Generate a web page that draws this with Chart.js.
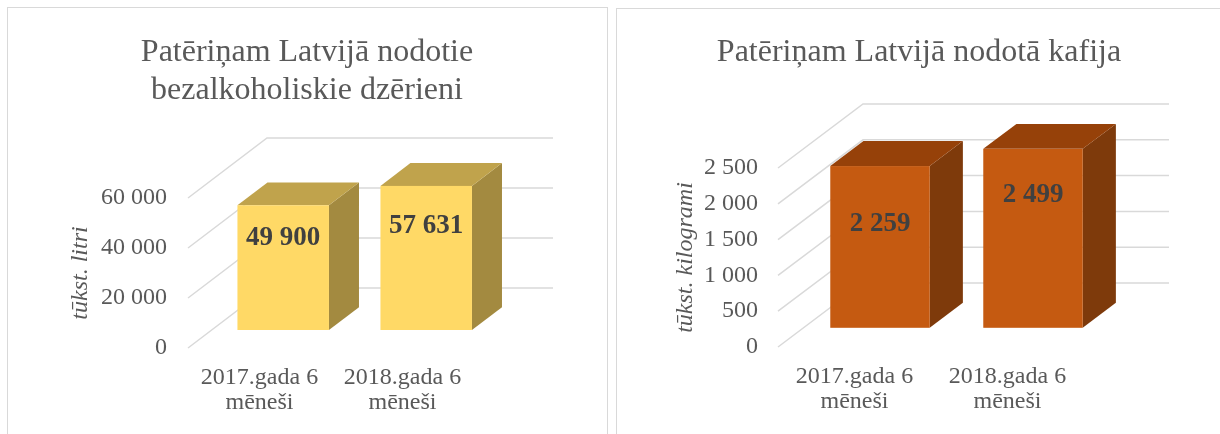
<!DOCTYPE html>
<html><head><meta charset="utf-8">
<script src="https://cdn.jsdelivr.net/npm/chart.js@4.4.1/dist/chart.umd.min.js"></script>
<style>
html,body{margin:0;padding:0;background:#fff;width:1220px;height:434px;overflow:hidden}
#wrap{position:relative;width:1220px;height:434px}
.frame{position:absolute;border:1.5px solid #d9d9d9;box-sizing:border-box}
canvas{position:absolute;top:0}
</style></head><body>
<div id="wrap">
<div class="frame" style="left:7px;top:7px;width:601px;height:440px"></div>
<div class="frame" style="left:616px;top:8px;width:620px;height:440px"></div>
<canvas id="c1" width="610" height="434" style="left:0"></canvas>
<canvas id="c2" width="610" height="434" style="left:610px"></canvas>
</div>
<script>
const categories = [['2017.gada 6', 'mēneši'], ['2018.gada 6', 'mēneši']];
const drinksValues = [49900, 57631];
const coffeeValues = [2259, 2499];
const drinksTicks = [0, 20000, 40000, 60000];
const coffeeTicks = [0, 500, 1000, 1500, 2000, 2500];
const drinksTitle = ['Patēriņam Latvijā nodotie', 'bezalkoholiskie dzērieni'];
const coffeeTitle = ['Patēriņam Latvijā nodotā kafija'];
const drinksUnit = 'tūkst. litri';
const coffeeUnit = 'tūkst. kilogrami';

const SERIF = '"Liberation Serif", "Times New Roman", serif';
const GREY = '#595959';
const fmt = v => String(v).replace(/\B(?=(\d{3})+(?!\d))/g, ' ');

const threeD = {
  id: 'threeD',
  beforeDraw(chart, args, o) {
    const ctx = chart.ctx;
    ctx.save();
    ctx.font = '32px ' + SERIF;
    ctx.fillStyle = GREY;
    ctx.textAlign = 'center';
    ctx.textBaseline = 'alphabetic';
    o.title.forEach((line, i) => ctx.fillText(line, o.titleX, o.titleY + i * 38));
    ctx.restore();
  },
  beforeDatasetsDraw(chart, args, o) {
    const {ctx, chartArea: a} = chart;
    const y = chart.scales.y;
    ctx.save();
    ctx.strokeStyle = '#d9d9d9';
    ctx.lineWidth = 1.5;
    y.ticks.forEach(t => {
      const py = y.getPixelForValue(t.value);
      ctx.beginPath();
      ctx.moveTo(a.left, py);
      ctx.lineTo(a.left + o.dx, py + o.dy);
      ctx.lineTo(a.right + o.dx, py + o.dy);
      ctx.stroke();
    });
    ctx.restore();
  },
  afterDatasetsDraw(chart, args, o) {
    const ctx = chart.ctx;
    const meta = chart.getDatasetMeta(0);
    const values = chart.data.datasets[0].data;
    const bx = o.dx * o.frontAt, by = o.dy * o.frontAt;
    const ddx = o.dx * o.depth, ddy = o.dy * o.depth;
    ctx.save();
    meta.data.forEach((bar, i) => {
      const {x, y, base, width} = bar.getProps(['x', 'y', 'base', 'width'], true);
      const l = x - width / 2 + bx, r = x + width / 2 + bx, t = y + by, b = base + by;
      ctx.fillStyle = o.sideColor;
      ctx.beginPath();
      ctx.moveTo(r, t); ctx.lineTo(r + ddx, t + ddy); ctx.lineTo(r + ddx, b + ddy); ctx.lineTo(r, b);
      ctx.closePath(); ctx.fill();
      ctx.fillStyle = o.topColor;
      ctx.beginPath();
      ctx.moveTo(l, t); ctx.lineTo(l + ddx, t + ddy); ctx.lineTo(r + ddx, t + ddy); ctx.lineTo(r, t);
      ctx.closePath(); ctx.fill();
      ctx.fillStyle = o.frontColor;
      ctx.fillRect(l, t, r - l, b - t);
      ctx.font = 'bold 27px ' + SERIF;
      ctx.fillStyle = '#404040';
      ctx.textAlign = 'center';
      ctx.textBaseline = 'middle';
      ctx.fillText(fmt(values[i]), (l + r) / 2, b - (b - t) * o.labelAt[i]);
    });
    ctx.restore();
  }
};

function makeChart(id, values, ticks, title, unit, s) {
  return new Chart(document.getElementById(id), {
    type: 'bar',
    data: {
      labels: categories,
      datasets: [{
        data: values,
        backgroundColor: 'rgba(0,0,0,0)',
        borderWidth: 0,
        categoryPercentage: 1,
        barPercentage: s.barPct
      }]
    },
    options: {
      responsive: false,
      animation: false,
      events: [],
      layout: {padding: {top: s.areaTop, right: s.padRight, left: 0, bottom: 0}},
      plugins: {
        legend: {display: false},
        tooltip: {enabled: false},
        threeD: {
          title: title, titleX: s.titleX, titleY: 61,
          dx: s.dx, dy: s.dy, frontAt: 0.3, depth: s.depth,
          frontColor: s.front, topColor: s.top, sideColor: s.side,
          labelAt: s.labelAt
        }
      },
      scales: {
        x: {
          grid: {display: false, drawTicks: false},
          border: {display: false},
          ticks: {
            color: GREY, padding: 17.5, maxRotation: 0, autoSkip: false,
            font: {family: SERIF, size: 24, lineHeight: 1.04}
          },
          afterFit: sc => { sc.height = s.xHeight; }
        },
        y: {
          min: ticks[0], max: ticks[ticks.length - 1],
          grid: {display: false, drawTicks: false},
          border: {display: false},
          afterBuildTicks: sc => { sc.ticks = ticks.map(v => ({value: v})); },
          ticks: {
            color: GREY, padding: s.tickPad,
            font: {family: SERIF, size: 24},
            callback: v => fmt(v)
          },
          title: {
            display: true, text: unit, color: GREY,
            font: {family: SERIF, size: 24, style: 'italic'},
            padding: {top: s.titlePad, bottom: 0}
          },
          afterFit: sc => { sc.width = s.yWidth; }
        }
      }
    },
    plugins: [threeD]
  });
}

makeChart('c1', drinksValues, drinksTicks, drinksTitle, drinksUnit, {
  barPct: 0.64, areaTop: 198, padRight: 136, xHeight: 86, yWidth: 188, tickPad: 21, titlePad: 66,
  titleX: 307, dx: 79, dy: -60, depth: 0.38,
  front: '#FFD966', top: '#C0A34C', side: '#A38A40', labelAt: [0.74, 0.72]
});
makeChart('c2', coffeeValues, coffeeTicks, coffeeTitle, coffeeUnit, {
  barPct: 0.65, areaTop: 168, padRight: 136, xHeight: 87, yWidth: 168, tickPad: 20, titlePad: 61,
  titleX: 309, dx: 85, dy: -64, depth: 0.39,
  front: '#C55A11', top: '#964109', side: '#7E3A0B', labelAt: [0.64, 0.74]
});
</script>
</body></html>
